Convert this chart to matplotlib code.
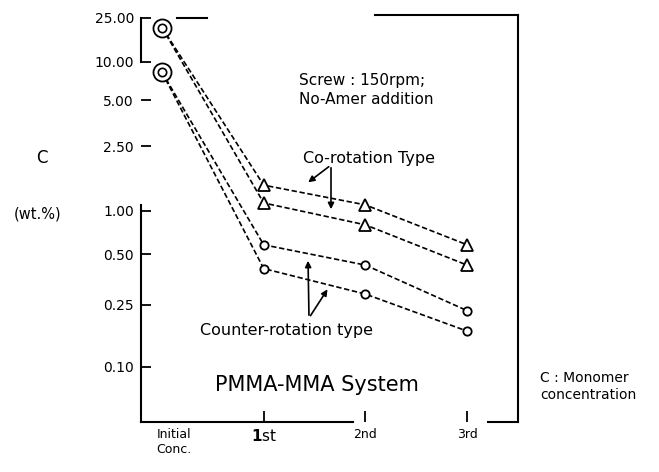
import numpy as np
import matplotlib
matplotlib.use("Agg")
import matplotlib.pyplot as plt
import matplotlib.transforms as mtrans
from matplotlib.lines import Line2D

# ---------------- data ----------------
stages = ["Initial\nConc.", "$\\mathbf{1}$st", "2nd", "3rd"]
stage_pos = [0, 1, 2, 3]
co_rot_a = [20.5, 1.44, 1.09, 0.58]
co_rot_b = [20.5, 1.12, 0.80, 0.43]
counter_a = [8.3, 0.58, 0.43, 0.23]
counter_b = [8.3, 0.41, 0.29, 0.17]
ytick_vals = [0.10, 0.25, 0.50, 1.00, 2.50, 5.00, 10.00, 25.00]
ytick_labels = ["0.10", "0.25", "0.50", "1.00", "2.50", "5.00", "10.00", "25.00"]

# ---------------- hand-drawn (non uniform) log axis ----------------
W, H = 659, 472
tick_rows = [367, 305, 254, 211, 146, 100, 62, 18]   # pixel rows of ticks in the drawing
logs = np.log10(ytick_vals)
logs_ext = np.concatenate([[-1.5], logs, [1.7]])
rows_ext = np.concatenate([[445.0], tick_rows, [-15.4]])


def fwd(v):
    v = np.clip(np.asarray(v, dtype=float), 1e-6, None)
    return -np.interp(np.log10(v), logs_ext, rows_ext)


def inv(t):
    r = -np.asarray(t, dtype=float)
    return 10 ** np.interp(r, rows_ext[::-1], logs_ext[::-1])


FONT = "DejaVu Sans"
plt.rcParams["font.family"] = [FONT]

fig = plt.figure(figsize=(W / 100, H / 100), dpi=100)
L, R, T, B = 141, 518, 15, 422
ax = fig.add_axes([L / W, 1 - B / H, (R - L) / W, (B - T) / H])
ax.set_yscale("function", functions=(fwd, inv))
ax.set_ylim(float(inv(-B)), float(inv(-T)))
ppu = 101.7
x0 = 162
ax.set_xlim((L - x0) / ppu, (R - x0) / ppu)

for s in ax.spines.values():
    s.set_visible(False)

dash = (0, (3.2, 1.6))
lw = 1.2
# co-rotation (triangles)
for ser in (co_rot_a, co_rot_b):
    ax.plot(stage_pos, ser, color="black", lw=lw, linestyle=dash, zorder=2)
    ax.plot(stage_pos[1:], ser[1:], linestyle="none", marker="^", ms=8,
            mfc="white", mec="black", mew=1.3, zorder=3)
# counter-rotation (circles)
for ser in (counter_a, counter_b):
    ax.plot(stage_pos, ser, color="black", lw=lw, linestyle=dash, zorder=2)
    ax.plot(stage_pos[1:], ser[1:], linestyle="none", marker="o", ms=6,
            mfc="white", mec="black", mew=1.3, zorder=3)
# initial concentration double circles
for v in (co_rot_a[0], counter_a[0]):
    ax.plot([stage_pos[0]], [v], marker="o", ms=13, mfc="white", mec="black",
            mew=1.3, zorder=4, clip_on=False)
    ax.plot([stage_pos[0]], [v], marker="o", ms=6, mfc="white", mec="black",
            mew=1.2, zorder=5, clip_on=False)

# ticks
ax.set_yticks(ytick_vals)
ax.set_yticklabels(ytick_labels)
ax.yaxis.set_minor_locator(matplotlib.ticker.NullLocator())
ax.tick_params(axis="y", direction="in", length=7, width=1.3, labelsize=10, pad=5)
ax.set_xticks(stage_pos)
ax.set_xticklabels(stages)
ax.tick_params(axis="x", direction="in", length=8, width=1.3, labelsize=9, pad=4)
xt = ax.xaxis.get_major_ticks()
xt[0].tick1line.set_visible(False)
xt[0].label1.set_transform(xt[0].label1.get_transform() +
                           mtrans.ScaledTranslation(12 / 100, 0, fig.dpi_scale_trans))
xt[1].label1.set_fontsize(11)


def P(x, y):
    return (x / W, 1 - y / H)


def fline(xs, ys, lw_=1.5):
    fig.add_artist(Line2D([x / W for x in xs], [1 - y / H for y in ys],
                          color="black", lw=lw_, transform=fig.transFigure))


# frame pieces of the drawing
fline([L, L], [18, 62])          # bracket for the high values
fline([L, L], [205, B])          # main left axis
fline([L, 353], [B, B])          # bottom axis
fline([177, 207], [18, 18])
fline([375, R], [15, 15])
fline([R, R], [15, B])
fline([488, R], [B, B])

# texts
fig.text(*P(362, 80), "Screw : 150rpm;", ha="center", va="center", fontsize=11)
fig.text(*P(366, 99), "No-Amer addition", ha="center", va="center", fontsize=11)
fig.text(*P(369, 158), "Co-rotation Type", ha="center", va="center", fontsize=11.5)
fig.text(*P(286, 330), "Counter-rotation type", ha="center", va="center", fontsize=11.5)
fig.text(*P(317, 385), "PMMA-MMA System", ha="center", va="center", fontsize=15)
fig.text(*P(42, 158), "C", ha="center", va="center", fontsize=12)
fig.text(*P(38, 214), "(wt.%)", ha="center", va="center", fontsize=10.5)
fig.text(*P(540, 378), "C : Monomer", ha="left", va="center", fontsize=10)
fig.text(*P(540, 395), "concentration", ha="left", va="center", fontsize=10)

# arrows
ap = dict(arrowstyle="-|>", color="black", lw=1.2, mutation_scale=9)
for src, dst in [((331, 165), (306, 184)), ((331, 165), (331, 212)),
                 ((309, 318), (308, 258)), ((309, 318), (329, 287))]:
    ax.annotate("", xy=P(*dst), xytext=P(*src), xycoords="figure fraction",
                textcoords="figure fraction", arrowprops=ap)

fig.savefig("out.png", dpi=100)
